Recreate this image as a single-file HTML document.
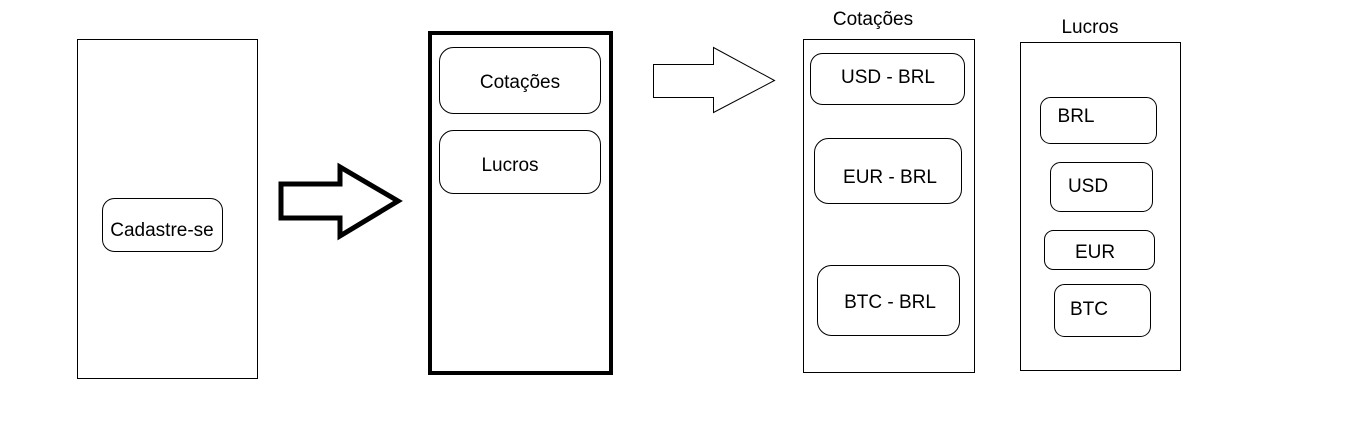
<!DOCTYPE html>
<html><head><meta charset="utf-8"><style>
html,body{margin:0;padding:0;background:#fff;}
svg text{font-family:"Liberation Sans",Arial,sans-serif;font-size:19px;fill:#000;}
</style></head><body>
<svg width="1360" height="425" viewBox="0 0 1360 425" xmlns="http://www.w3.org/2000/svg">
<rect width="1360" height="425" fill="#fff"/>
<g fill="none" stroke="#000" stroke-width="1">
<rect x="77.5" y="39.5" width="180" height="339"/>
<rect x="102.5" y="198.5" width="120" height="53" rx="12"/>
<rect x="803.5" y="39.5" width="171" height="333"/>
<rect x="810.5" y="53.5" width="154" height="51" rx="12"/>
<rect x="814.5" y="138.5" width="147" height="65" rx="14"/>
<rect x="817.5" y="265.5" width="142" height="70" rx="14"/>
<rect x="1020.5" y="42.5" width="160" height="328"/>
<rect x="1040.5" y="97.5" width="116" height="46" rx="10"/>
<rect x="1050.5" y="162.5" width="102" height="49" rx="10"/>
<rect x="1044.5" y="230.5" width="110" height="39" rx="9"/>
<rect x="1054.5" y="284.5" width="96" height="52" rx="10"/>
<rect x="439.5" y="47.5" width="161" height="66" rx="14"/>
<rect x="439.5" y="130.5" width="161" height="63" rx="14"/>
<polygon points="653.5,64.5 713.5,64.5 713.5,47.5 774.5,80.5 713.5,112.5 713.5,97.5 653.5,97.5"/>
</g>
<rect x="430" y="33" width="181" height="340" fill="none" stroke="#000" stroke-width="4"/>
<polygon points="281,184 340,184 340,167 398,201 340,236 340,218 281,218" fill="none" stroke="#000" stroke-width="5" stroke-linejoin="miter"/>
<text x="162" y="236" text-anchor="middle">Cadastre-se</text>
<text x="520" y="88" text-anchor="middle">Cotações</text>
<text x="510" y="171" text-anchor="middle">Lucros</text>
<text x="873" y="25" text-anchor="middle">Cotações</text>
<text x="888" y="83" text-anchor="middle">USD - BRL</text>
<text x="890" y="183" text-anchor="middle">EUR - BRL</text>
<text x="890" y="308" text-anchor="middle">BTC - BRL</text>
<text x="1090" y="33" text-anchor="middle">Lucros</text>
<text x="1076" y="122" text-anchor="middle">BRL</text>
<text x="1088" y="192" text-anchor="middle">USD</text>
<text x="1095" y="258" text-anchor="middle">EUR</text>
<text x="1089" y="315" text-anchor="middle">BTC</text>
</svg>
</body></html>
